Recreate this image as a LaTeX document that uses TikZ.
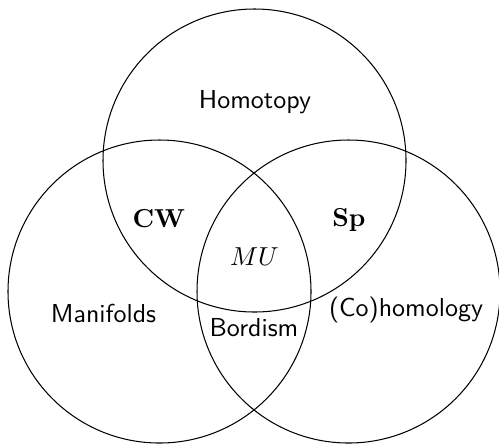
\documentclass[tikz,border=0pt]{standalone}
\begin{document}
\begin{tikzpicture}[x=0.385pt,y=-0.385pt,
  ring/.style={draw=black,line width=0.4pt},
  lbl/.style={font=\sffamily,inner sep=0pt}]
\useasboundingbox (0,0) rectangle (499,444);
\draw[ring] (254.5,160.5) circle[radius=151.5];
\draw[ring] (159.5,291.5) circle[radius=151.5];
\draw[ring] (348.5,291.5) circle[radius=151.5];
\node[lbl] (hom) at (255,102) {Homotopy};
\node[inner sep=0pt] (cw) at (159,219) {$\mathbf{CW}$};
\node[inner sep=0pt] (sp) at (349,220) {$\mathbf{Sp}$};
\node[inner sep=0pt] (mu) at (254.5,257) {$MU$};
\node[lbl] (man) at (103.5,313) {Manifolds};
\node[lbl] (bor) at (254,328) {Bordism};
\node[lbl] (coh) at (406,310) {(Co)homology};
\end{tikzpicture}
\end{document}
